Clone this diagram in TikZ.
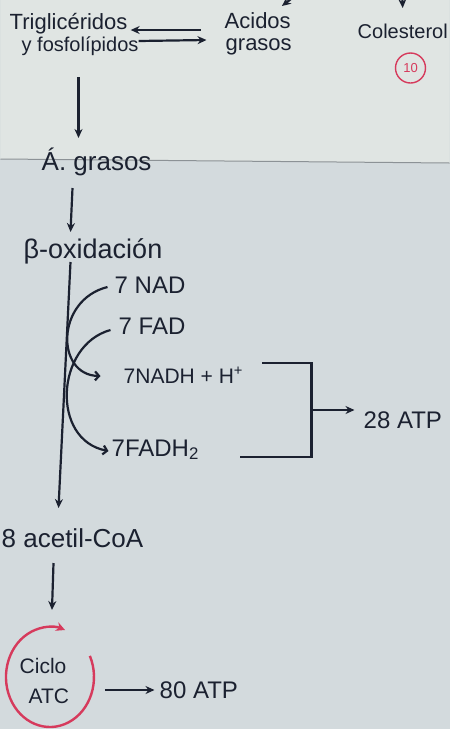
\documentclass[tikz,border=0pt]{standalone}
\usepackage{fontspec}
\setmainfont{Liberation Sans}
\usetikzlibrary{arrows.meta, positioning, calc}
\definecolor{ink}{RGB}{27,33,48}
\definecolor{penred}{RGB}{214,58,92}
\definecolor{paperup}{RGB}{224,229,227}
\definecolor{paperdn}{RGB}{211,218,221}
\definecolor{paperedge}{RGB}{140,146,150}

\begin{document}
\begin{tikzpicture}[
    x=1pt, y=-1pt,
    fs/.style={font=\fontsize{#1}{#1}\selectfont},
    txt/.style={inner sep=1pt, text=ink, anchor=base west},
    pen/.style={ink, line width=2.2pt},
    arr/.style={pen, -{Stealth[length=9pt,width=8pt]}},
    barb/.style={pen, -{Straight Barb[length=4pt,width=9pt]}},
    cyc/.style={penred, line width=2.4pt, -{Stealth[length=9pt,width=9pt]}},
    ringmark/.style={draw=penred, line width=1.4pt, circle, minimum size=30pt, inner sep=0pt, text=penred, fs=13},
]

% --- Paper ---
\fill[paperdn] (0,0) rectangle (449,729);
\fill[paperup] (0,0) -- (449,0) -- (449,163) -- (0,159) -- cycle;
\draw[paperedge, line width=1pt] (0,159) -- (449,163);
\useasboundingbox (0,0) rectangle (449,729);

% --- Top row ---
\node[txt, fs=22] (trig) at (8,29) {Triglicéridos};
\node[txt, fs=20] (fosf) at (20,51) {y fosfolípidos};
\node[txt, fs=22] (acid) at (223,28) {Acidos};
\node[txt, fs=22] (gras) at (224,50) {grasos};
\node[txt, fs=20] (col) at (356,38) {Colesterol};
\node[ringmark] (diez) at (410,68) {10};

% --- Arrows from above (cut off) ---
\coordinate (acidsrc) at (302,-10);
\coordinate (colsrc) at (401,-20);
\draw[arr] (acidsrc) -- ($(acid.base east)+(-10,-22)$);
\draw[arr] (colsrc) -- ($(col.base)+(0,-30)$);

% --- Triglicéridos <-> Acidos grasos ---
\draw[arr] ($(acid.base west)+(-23,2)$) -- ($(trig.base east)+(2,1)$);
\draw[arr] ($(fosf.base east)+(-1,-10)$) -- ($(acid.base west)+(-17,12)$);

% --- Main chain ---
\node[txt, fs=26] (agr) at (40,170) {Á. grasos};
\node[txt, fs=27] (beta) at (22,258) {β-oxidación};
\node[txt, fs=26] (acetil) at (0,547) {8 acetil-CoA};

\draw[arr] ($(fosf.base west)+(58,26)$) -- ($(agr.base west)+(38,-32)$);
\draw[arr] ($(agr.base west)+(32,18)$) -- ($(beta.base west)+(48,-26)$);
\draw[arr] ($(beta.base west)+(48,4)$) -- ($(acetil.base west)+(58,-39)$);

% --- Coenzymes ---
\node[txt, fs=24] (nad) at (113,293) {7 NAD};
\node[txt, fs=24] (fad) at (117,334) {7 FAD};
\node[txt, fs=21] (nadh) at (122,383) {7NADH + H\textsuperscript{+}};
\node[txt, fs=24] (fadh) at (110,456) {7FADH\textsubscript{2}};

\draw[barb] ($(nad.base west)+(-6,-6)$) .. controls (55,300) and (55,375) .. ($(nadh.base west)+(-22,-7)$);
\draw[barb] ($(fad.base west)+(-7,-4)$) .. controls (55,345) and (50,440) .. ($(fadh.base west)+(-2,-5)$);

% --- Bracket -> 28 ATP ---
\coordinate (brtop) at ($(nadh.base east)+(18,-20)$);
\coordinate (brbot) at ($(fadh.base east)+(40,1)$);
\draw[pen] (brtop) -- (brtop -| 311,0) coordinate (brne) |- (brbot);
\coordinate (brmid) at ($(brne)!0.5!(brne |- brbot)$);
\node[txt, fs=24] (atp28) at (362,428) {28 ATP};
\draw[arr] (brmid) -- ($(brmid -| atp28.west)+(-8,0)$);

% --- Ciclo ATC ---
\node[txt, fs=21] (ciclo) at (18,673) {Ciclo};
\node[txt, fs=21] (atc) at (27,703) {ATC};
\coordinate (cycc) at ($($(ciclo.base)!0.5!(atc.base)$)+(4,-11)$);
\coordinate (cyctop) at ($(cycc)+(2,-67)$);
\draw[arr] ($(acetil.base west)+(53,16)$) -- (cyctop);
\draw[cyc] (cycc) ++(-25:44 and 50) arc[start angle=-25, end angle=290, x radius=44, y radius=50];

\node[txt, fs=24] (atp80) at (158,698) {80 ATP};
\draw[arr] ($(cycc)+(55,13)$) -- ($(atp80.base west)+(-4,-8)$);

\end{tikzpicture}
\end{document}
